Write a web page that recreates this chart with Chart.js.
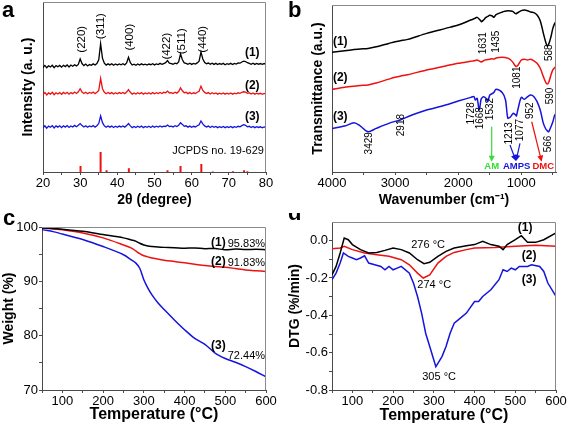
<!DOCTYPE html>
<html><head><meta charset="utf-8">
<script src="https://cdn.jsdelivr.net/npm/chart.js@4.4.1/dist/chart.umd.min.js"></script>
<style>
html,body{margin:0;padding:0;background:#fff;width:567px;height:426px;overflow:hidden}
canvas{position:absolute}
</style></head><body>
<canvas id="ca" width="283" height="213" style="left:0;top:0;width:283px;height:213px"></canvas>
<canvas id="cb" width="284" height="213" style="left:283px;top:0;width:284px;height:213px"></canvas>
<canvas id="cc" width="283" height="213" style="left:0;top:213px;width:283px;height:213px"></canvas>
<canvas id="cd" width="284" height="213" style="left:283px;top:213px;width:284px;height:213px"></canvas>
<script>
// ---------- Panel a: XRD ----------
const aTheta = [20,20.5,21,21.5,22,22.5,23,23.5,24,24.5,25,25.5,26,26.5,27,27.5,28,28.5,29,29.5,30,30.5,31,31.5,32,32.5,33,33.5,34,34.5,35,35.5,36,36.5,37,37.5,38,38.5,39,39.5,40,40.5,41,41.5,42,42.5,43,43.5,44,44.5,45,45.5,46,46.5,47,47.5,48,48.5,49,49.5,50,50.5,51,51.5,52,52.5,53,53.5,54,54.5,55,55.5,56,56.5,57,57.5,58,58.5,59,59.5,60,60.5,61,61.5,62,62.5,63,63.5,64,64.5,65,65.5,66,66.5,67,67.5,68,68.5,69,69.5,70,70.5,71,71.5,72,72.5,73,73.5,74,74.5,75,75.5,76,76.5,77,77.5,78,78.5,79,79.5,80];
const aXrd1 = [61.5,62.7,61.3,62.5,61.8,62.8,61.4,62.6,61.9,62.7,
61.7,62.8,62.0,63.0,61.8,62.9,62.2,63.1,62.4,63.3,
66.5,63.8,62.6,63.5,62.4,63.2,62.8,63.6,62.9,63.8,
66.0,75.5,67.0,64.0,62.9,63.6,63.0,63.7,62.8,63.5,
62.9,63.6,63.1,63.7,63.0,64.2,67.5,64.3,62.9,63.4,
62.8,63.5,62.9,63.6,63.0,63.4,62.9,63.5,63.1,63.7,
63.0,63.6,63.2,63.9,63.3,63.8,64.3,65.5,64.0,63.8,
63.4,64.0,63.7,64.8,69.5,66.0,64.2,63.9,63.4,64.0,
63.3,63.9,63.5,64.2,65.2,70.5,66.5,64.4,63.7,64.1,
63.4,64.0,63.3,63.9,63.2,63.8,63.3,63.9,63.1,63.7,
63.3,63.9,63.2,63.9,63.5,64.1,64.0,64.7,65.2,65.0,
64.3,63.9,63.4,64.0,63.3,63.9,63.4,63.8,63.3,63.8,
63.5];
const aXrd2 = [45.6,46.8,45.3,46.5,45.8,46.9,45.5,46.6,45.9,46.7,
45.7,46.8,46.0,46.9,45.8,46.7,46.1,47.0,46.2,47.2,
49.0,47.0,46.2,46.9,46.0,46.8,46.3,47.0,46.1,46.9,
48.0,55.0,49.0,46.9,46.0,46.8,46.1,46.7,45.9,46.6,
46.0,46.7,46.2,46.8,46.1,47.0,48.5,46.9,45.8,46.5,
45.9,46.6,46.0,46.7,45.8,46.5,46.0,46.6,45.9,46.7,
46.0,46.6,46.1,46.8,46.2,46.9,46.6,47.6,46.5,46.7,
46.2,46.9,46.4,47.3,49.5,47.8,46.6,46.9,46.1,46.7,
46.0,46.6,46.2,46.9,47.5,50.5,48.0,46.8,46.2,46.7,
45.9,46.6,46.0,46.5,45.8,46.4,45.9,46.5,45.8,46.4,
45.9,46.5,45.8,46.4,46.0,46.6,46.3,46.9,47.2,47.0,
46.3,46.6,45.9,46.5,45.8,46.4,45.9,46.3,45.7,46.2,
45.9];
const aXrd3 = [26.0,27.2,25.8,27.0,26.3,27.3,25.9,27.1,26.4,27.2,
26.1,27.2,26.4,27.3,26.2,27.1,26.5,27.4,26.6,27.5,
28.5,27.3,26.5,27.2,26.3,27.1,26.6,27.3,26.4,27.2,
28.5,33.0,29.0,27.2,26.3,27.1,26.4,27.0,26.2,26.9,
26.3,27.0,26.5,27.1,26.4,27.3,28.5,27.1,26.1,26.8,
26.2,26.9,26.3,27.0,26.1,26.8,26.3,26.9,26.2,27.0,
26.3,26.9,26.4,27.1,26.5,27.0,26.8,27.6,26.7,27.0,
26.5,27.2,26.7,27.5,29.0,28.0,26.9,27.2,26.4,27.0,
26.3,26.9,26.5,27.2,27.8,30.0,28.3,27.1,26.5,27.0,
26.2,26.9,26.3,26.8,26.1,26.7,26.2,26.8,26.1,26.7,
26.2,26.8,26.1,26.7,26.3,26.9,26.6,27.3,27.8,27.5,
26.6,26.9,26.2,26.8,26.1,26.7,26.2,26.6,26.0,26.5,
26.2];
const aRefTheta = [30.1,35.5,37.1,43.1,53.5,57.0,62.6,65.7,71.1,74.1,75.0];
const aRefInt = [3.6,11.8,1.0,2.2,1.0,3.6,4.7,0.3,0.4,1.0,0.5];
const aTickMajor = [20,30,40,50,60,70,80];
const aTickMinor = [25,35,45,55,65,75];
const aPeakText = ['(220)','(311)','(400)','(422)','(511)','(440)'];
const aPeakLabelX = [30.4,35.6,43.4,53.4,57.3,63.1];
const aPeakLabelY = [78.1,85.8,79.3,74.0,76.9,78.1];

// ---------- Panel b: FTIR ----------
const bWn = [4000,3800,3650,3550,3429,3300,3100,3000,2918,2800,2500,2200,2000,1800,1750,1728,1700,1668,1640,1631,1600,1560,1532,1500,1460,1435,1400,1300,1250,1213,1170,1130,1100,1081,1077,1050,1000,952,900,850,800,750,700,650,610,590,566,530,500,470,450];
const bT1 = [71.7,72.6,73.3,73.7,74.0,75.0,77.0,78.0,78.6,79.4,83.0,86.0,88.0,91.0,91.8,92.2,92.6,91.6,90.4,90.0,91.0,92.6,93.2,93.8,93.4,92.6,94.2,95.8,96.3,96.6,96.4,96.0,95.0,94.8,94.9,95.5,96.6,97.0,96.6,95.8,95.4,94.0,90.6,83.0,77.4,75.6,76.5,81.0,86.0,89.0,90.0];
const bT2 = [49.5,50.7,51.4,51.8,52.1,53.3,55.6,56.7,57.4,58.2,61.1,63.5,65.1,66.3,66.6,66.8,67.1,66.5,66.0,65.9,66.6,67.2,67.3,67.5,67.8,67.6,68.3,68.7,68.5,68.2,67.2,65.5,63.8,63.1,63.2,64.1,67.1,67.5,67.1,67.5,66.6,65.1,62.1,57.1,53.5,52.7,53.6,58.1,61.1,62.5,63.1];
const bT3 = [26.1,27.5,29.5,27.5,24.1,26.1,29.1,30.3,31.1,33.1,37.1,40.1,42.5,44.7,45.1,43.1,44.1,37.1,43.1,44.0,45.1,44.1,42.1,46.1,47.0,47.6,49.5,47.5,43.1,32.2,33.1,35.1,34.5,33.8,33.5,38.0,44.7,43.5,45.1,46.1,45.1,42.1,37.1,29.1,25.6,24.8,24.1,27.1,30.1,34.1,35.1];
const bTickMajor = [4000,3000,2000,1000];
const bTickMinor = [3500,2500,1500,500];

// ---------- Panel c: TGA ----------
const cTemp = [50,60,80,100,150,200,250,270,280,290,300,310,320,335,350,375,400,425,450,475,500,525,550,575,600];
const cW1 = [99.8,99.8,99.7,99.6,99.2,98.6,98.0,97.6,97.4,97.0,96.7,96.5,96.4,96.3,96.25,96.2,96.1,96.15,96.0,96.05,95.8,95.95,95.85,95.9,95.83];
const cW2 = [99.8,99.75,99.65,99.5,98.9,98.0,96.7,96.1,95.6,95.1,94.7,94.5,94.3,94.1,93.9,93.65,93.4,93.15,92.9,92.75,92.6,92.35,92.1,91.95,91.83];
const cW3 = [99.5,99.4,99.1,98.7,97.7,96.4,94.9,93.9,93.4,92.4,90.3,88.75,87.5,86.0,84.8,82.9,81.1,79.5,78.4,76.8,75.8,75.1,74.3,73.4,72.44];
const cXMajor = [100,200,300,400,500,600];
const cXMinor = [50,150,250,350,450,550];
const cYMajor = [70,80,90,100];
const cYMinor = [75,85,95];

// ---------- Panel d: DTG ----------
const dT1 = [50,60,70,80,90,100,120,140,160,180,200,220,240,260,276,290,310,330,350,380,400,420,440,460,470,480,500,515,530,550,570,600];
const dDtg1 = [-0.183,-0.138,-0.066,0.014,0.005,-0.021,-0.048,-0.066,-0.063,-0.052,-0.039,-0.048,-0.066,-0.102,-0.123,-0.116,-0.084,-0.057,-0.039,-0.027,-0.021,-0.004,-0.021,-0.030,-0.048,-0.021,0.005,0.027,-0.009,-0.009,0.005,0.041];
const dT2 = [50,70,80,100,130,160,190,220,240,260,274,290,310,330,350,380,400,450,500,550,600];
const dDtg2 = [-0.043,-0.039,-0.030,-0.048,-0.066,-0.075,-0.084,-0.102,-0.129,-0.174,-0.200,-0.183,-0.120,-0.084,-0.063,-0.048,-0.039,-0.036,-0.030,-0.025,-0.030];
const dT3 = [50,60,70,78,90,100,110,120,130,140,155,170,180,190,200,210,220,240,250,260,270,280,290,300,305,310,320,330,340,350,360,380,400,410,420,440,460,470,480,490,500,510,530,540,560,570,580,600];
const dDtg3 = [-0.209,-0.174,-0.120,-0.066,-0.084,-0.093,-0.102,-0.093,-0.081,-0.120,-0.129,-0.138,-0.156,-0.138,-0.156,-0.147,-0.138,-0.174,-0.227,-0.299,-0.388,-0.496,-0.567,-0.639,-0.675,-0.657,-0.621,-0.567,-0.496,-0.442,-0.424,-0.388,-0.326,-0.326,-0.299,-0.263,-0.209,-0.156,-0.165,-0.147,-0.156,-0.138,-0.138,-0.129,-0.138,-0.165,-0.227,-0.299];
const dXMajor = [100,200,300,400,500,600];
const dXMinor = [50,150,250,350,450,550];
const dYMajor = [-0.8,-0.6,-0.4,-0.2,0];
const dYMinor = [-0.7,-0.5,-0.3,-0.1];

// ---------- styling helpers ----------
const FONT = "'Liberation Sans', Arial, Helvetica, sans-serif";
const AXIS = '#4a4a4a', FRAME = '#8a8a8a';
const BLACK = '#000000', RED = '#ee1111', BLUE = '#1414dc', GREEN = '#33dd33';

function pts(xs, ys){ return xs.map((x,i)=>({x:x, y:ys[i]})); }

function lineDs(xs, ys, color, w, tension){
  return {data: pts(xs, ys), borderColor: color, borderWidth: w, pointRadius: 0, fill: false,
          tension: tension||0, spanGaps: false};
}

function axis(o){
  const horiz = o.horiz;
  const cfg = {
    type: 'linear', min: o.min, max: o.max, reverse: !!o.reverse, offset: false,
    afterFit: s => {
      if (horiz) s.height = o.size; else s.width = o.size;
      s.paddingLeft = 0; s.paddingRight = 0; s.paddingTop = 0; s.paddingBottom = 0;
    },
    grid: {display: !!o.major, drawOnChartArea: false, drawTicks: true, tickLength: 3,
           color: AXIS, tickColor: AXIS, offset: false, lineWidth: 1},
    border: {display: true, color: AXIS, width: 1},
    ticks: {display: !!o.major, autoSkip: false, maxRotation: 0, minRotation: 0, padding: o.tpad||1,
            font: {family: FONT, size: 13}, color: '#000',
            callback: v => (o.major && o.major.includes(v)) ? (o.fmt ? o.fmt(v) : String(v)) : ''},
    title: {display: true, text: o.title, color: '#000',
            font: {family: FONT, size: o.tsize||14, weight: 'bold'},
            padding: {top: o.titlePad, bottom: o.titlePad}}
  };
  if (o.major) {
    cfg.afterBuildTicks = s => {
      s.ticks = o.major.concat(o.minor||[]).sort((a,b)=>a-b).map(v=>({value:v}));
    };
  }
  return cfg;
}

function decor(letter, lx, ly, notes, arrows){
  return {
    id: 'decor',
    afterDatasetsDraw(chart){
      const {ctx, chartArea: ca, scales: {x, y}} = chart;
      ctx.save();
      // frame top & right
      ctx.strokeStyle = FRAME; ctx.lineWidth = 1;
      ctx.beginPath();
      const t = Math.round(ca.top) + 0.5, r = Math.round(ca.right) - 0.5;
      ctx.moveTo(Math.round(ca.left), t); ctx.lineTo(r, t); ctx.lineTo(r, Math.round(ca.bottom));
      ctx.stroke();
      // arrows
      (arrows||[]).forEach(a => {
        const x1 = x.getPixelForValue(a.x1), y1 = y.getPixelForValue(a.y1);
        const x2 = x.getPixelForValue(a.x2), y2 = y.getPixelForValue(a.y2);
        const ang = Math.atan2(y2 - y1, x2 - x1), L = 6, W = 3;
        ctx.strokeStyle = a.color; ctx.fillStyle = a.color; ctx.lineWidth = 1.2;
        ctx.beginPath(); ctx.moveTo(x1, y1);
        ctx.lineTo(x2 - Math.cos(ang)*L*0.8, y2 - Math.sin(ang)*L*0.8); ctx.stroke();
        ctx.beginPath(); ctx.moveTo(x2, y2);
        ctx.lineTo(x2 - Math.cos(ang)*L + Math.sin(ang)*W, y2 - Math.sin(ang)*L - Math.cos(ang)*W);
        ctx.lineTo(x2 - Math.cos(ang)*L - Math.sin(ang)*W, y2 - Math.sin(ang)*L + Math.cos(ang)*W);
        ctx.closePath(); ctx.fill();
      });
      // notes
      (notes||[]).forEach(n => {
        const px = x.getPixelForValue(n.x), py = y.getPixelForValue(n.y);
        ctx.save(); ctx.translate(px, py); if (n.rot) ctx.rotate(-Math.PI/2);
        ctx.font = (n.bold ? 'bold ' : '') + (n.size||11) + 'px ' + FONT;
        ctx.fillStyle = n.color || '#000';
        ctx.textAlign = n.align || 'center'; ctx.textBaseline = 'middle';
        ctx.fillText(n.t, 0, 0); ctx.restore();
      });
      // panel letter
      ctx.font = 'bold 22px ' + FONT; ctx.fillStyle = '#000';
      ctx.textAlign = 'left'; ctx.textBaseline = 'alphabetic';
      ctx.fillText(letter, lx, ly);
      ctx.restore();
    }
  };
}

function baseOpts(padding, scales){
  return {
    responsive: false, animation: false, devicePixelRatio: 1,
    layout: {padding: padding},
    plugins: {legend: {display: false}, tooltip: {enabled: false}},
    scales: scales
  };
}

// ---------- Chart a ----------
const aNotes = aPeakText.map((t,i)=>({t:t, x:aPeakLabelX[i], y:aPeakLabelY[i], size:11.5, rot:true}));
aNotes.push({t:'(1)', x:76.3, y:70.4, size:12, bold:true});
aNotes.push({t:'(2)', x:76.3, y:50.9, size:12, bold:true});
aNotes.push({t:'(3)', x:76.3, y:32.5, size:12, bold:true});
aNotes.push({t:'JCPDS no. 19-629', x:67.1, y:12.4, size:11});
const aRefData = [];
aRefTheta.forEach((x,i)=>{ aRefData.push({x:x,y:0},{x:x,y:aRefInt[i]},{x:x,y:null}); });
new Chart(document.getElementById('ca'), {
  type: 'line',
  data: {datasets: [
    lineDs(aTheta, aXrd1, BLACK, 1.3),
    lineDs(aTheta, aXrd2, RED, 1.3),
    lineDs(aTheta, aXrd3, BLUE, 1.3),
    {data: aRefData, borderColor: RED, borderWidth: 2, pointRadius: 0, spanGaps: false, fill: false}
  ]},
  options: baseOpts({left:0, top:2, right:17, bottom:0}, {
    x: axis({horiz:true, min:20, max:80, size:41, major:aTickMajor, minor:aTickMinor, title:'2θ (degree)', titlePad:4.6}),
    y: axis({horiz:false, min:0, max:100, size:43, title:'Intensity (a. u.)', titlePad:19.6})
  }),
  plugins: [decor('a', 2, 17, aNotes)]
});

// ---------- Chart b ----------
const bNotes = [
  {t:'1631', x:1610, y:77.1, size:10, rot:true},
  {t:'1435', x:1396, y:78.0, size:10, rot:true},
  {t:'588', x:550, y:71.4, size:10, rot:true},
  {t:'1081', x:1058, y:56.5, size:10, rot:true},
  {t:'590', x:548, y:45.5, size:10, rot:true},
  {t:'3429', x:3414, y:17.2, size:10, rot:true},
  {t:'2918', x:2902, y:28.1, size:10, rot:true},
  {t:'1728', x:1786, y:35.1, size:10, rot:true},
  {t:'1668', x:1655, y:32.2, size:10, rot:true},
  {t:'1532', x:1485, y:37.7, size:10, rot:true},
  {t:'1213', x:1190, y:23.1, size:10, rot:true},
  {t:'1077', x:1021, y:25.1, size:10, rot:true},
  {t:'952', x:862, y:36.7, size:10, rot:true},
  {t:'566', x:572, y:16.8, size:10, rot:true},
  {t:'(1)', x:3985, y:78.0, size:12, bold:true, align:'left'},
  {t:'(2)', x:3985, y:56.5, size:12, bold:true, align:'left'},
  {t:'(3)', x:3985, y:33.1, size:12, bold:true, align:'left'},
  {t:'AM', x:1469, y:3.6, size:9.5, bold:true, color:GREEN},
  {t:'AMPS', x:1073, y:3.6, size:9.5, bold:true, color:BLUE},
  {t:'DMC', x:651, y:3.6, size:9.5, bold:true, color:RED}
];
const bArrows = [
  {x1:1469, y1:27.1, x2:1469, y2:6.2, color:GREEN},
  {x1:1179, y1:16.2, x2:1084, y2:6.6, color:BLUE},
  {x1:1021, y1:17.2, x2:1084, y2:6.6, color:BLUE},
  {x1:835, y1:30.1, x2:677, y2:6.2, color:RED}
];
new Chart(document.getElementById('cb'), {
  type: 'line',
  data: {datasets: [
    lineDs(bWn, bT1, BLACK, 1.5, 0.3),
    lineDs(bWn, bT2, RED, 1.5, 0.3),
    lineDs(bWn, bT3, BLUE, 1.5, 0.3)
  ]},
  options: baseOpts({left:0, top:5, right:11, bottom:0}, {
    x: axis({horiz:true, min:450, max:4000, reverse:true, size:41, major:bTickMajor, minor:bTickMinor, title:'Wavenumber (cm⁻¹)', titlePad:4.6}),
    y: axis({horiz:false, min:0, max:100, size:49, title:'Transmittance (a.u.)', titlePad:26.6})
  }),
  plugins: [decor('b', 5, 17, bNotes, bArrows)]
});

// ---------- Chart c ----------
const cNotes = [
  {t:'(1)', x:501, y:97.05, size:12, bold:true, align:'right'},
  {t:'95.83%', x:506, y:96.87, size:11, align:'left'},
  {t:'(2)', x:501, y:93.67, size:12, bold:true, align:'right'},
  {t:'91.83%', x:506, y:93.36, size:11, align:'left'},
  {t:'(3)', x:501, y:78.1, size:12, bold:true, align:'right'},
  {t:'72.44%', x:506, y:76.3, size:11, align:'left'}
];
new Chart(document.getElementById('cc'), {
  type: 'line',
  data: {datasets: [
    lineDs(cTemp, cW1, BLACK, 1.5, 0.3),
    lineDs(cTemp, cW2, RED, 1.5, 0.3),
    lineDs(cTemp, cW3, BLUE, 1.5, 0.3)
  ]},
  options: baseOpts({left:0, top:14, right:17, bottom:0}, {
    x: axis({horiz:true, min:50, max:600, size:36, major:cXMajor, minor:cXMinor, title:'Temperature (°C)', tsize:16, titlePad:1.7}),
    y: axis({horiz:false, min:70, max:100, size:42, major:cYMajor, minor:cYMinor, title:'Weight (%)', titlePad:0.9})
  }),
  plugins: [decor('c', 3, 11.5, cNotes)]
});

// ---------- Chart d ----------
const dNotes = [
  {t:'276 °C', x:286, y:-0.021, size:11},
  {t:'274 °C', x:301, y:-0.236, size:11},
  {t:'305 °C', x:313, y:-0.728, size:11},
  {t:'(1)', x:524, y:0.068, size:12, bold:true},
  {t:'(2)', x:534, y:-0.081, size:12, bold:true},
  {t:'(3)', x:534, y:-0.209, size:12, bold:true}
];
new Chart(document.getElementById('cd'), {
  type: 'line',
  data: {datasets: [
    lineDs(dT1, dDtg1, BLACK, 1.5),
    lineDs(dT2, dDtg2, RED, 1.5),
    lineDs(dT3, dDtg3, BLUE, 1.5)
  ]},
  options: baseOpts({left:0, top:9, right:11, bottom:0}, {
    x: axis({horiz:true, min:50, max:600, size:36, major:dXMajor, minor:dXMinor, title:'Temperature (°C)', tsize:16, titlePad:1}),
    y: axis({horiz:false, min:-0.8, max:0.1, size:49, major:dYMajor, minor:dYMinor, title:'DTG (%/min)', titlePad:3.3, fmt: v => v.toFixed(1)})
  }),
  plugins: [decor('d', 5, 7, dNotes)]
});
</script>
</body></html>
